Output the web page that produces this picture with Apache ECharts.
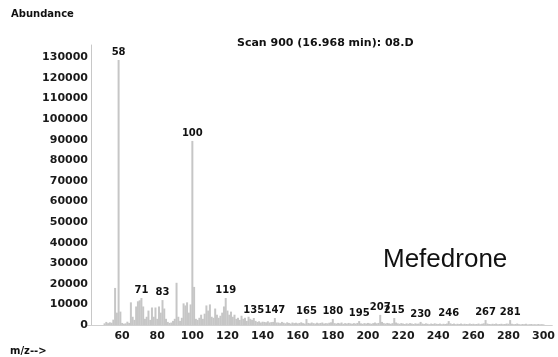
<!DOCTYPE html>
<html>
<head>
<meta charset="utf-8">
<script src="https://cdn.jsdelivr.net/npm/echarts@6/dist/echarts.min.js"></script>
<style>html,body{margin:0;padding:0;background:#fff;}#c{width:558px;height:357px;}</style>
</head>
<body>
<div id="c"></div>
<script>
// m/z values (x) and abundances (y)
const mz = [
 50,51,52,53,54,55,56,57,58,59,60,61,62,63,64,65,66,67,68,69,
 70,71,72,73,74,75,76,77,78,79,80,81,82,83,84,85,86,87,88,89,
 90,91,92,93,94,95,96,97,98,99,100,101,102,103,104,105,106,107,108,109,
 110,111,112,113,114,115,116,117,118,119,120,121,122,123,124,125,126,127,128,129,
 130,131,132,133,134,135,136,137,138,139,140,141,142,143,144,145,146,147,148,149,
 150,151,152,153,154,155,156,157,158,159,160,161,162,163,164,165,166,167,168,169,
 170,171,172,173,174,175,176,177,178,179,180,181,182,183,184,185,186,187,188,189,
 190,191,192,193,194,195,196,197,198,199,200,201,202,203,204,205,206,207,208,209,
 210,211,212,213,214,215,216,217,218,219,220,221,222,223,224,225,226,227,228,229,
 230,231,232,233,234,235,236,237,238,239,240,241,242,243,244,245,246,247,248,249,
 250,251,252,253,254,255,256,257,258,259,260,261,262,263,264,265,266,267,268,269,
 270,271,272,273,274,275,276,277,278,279,280,281,282,283,284,285,286,287,288,289,
 290,291,292,293,294,295,296,297,298,299,300
];
const abundance = [
 800,1500,900,1300,1100,2600,18000,6000,128700,6500,1000,600,800,1600,1000,11000,4000,2500,9000,11500,
 12000,13100,9000,3000,4000,7000,2500,8500,4000,8500,3000,9000,6000,12100,8000,3000,1500,1000,1200,2000,
 3000,20500,4000,2000,3500,10500,9500,11000,6000,10000,89400,18500,3000,2500,3500,5000,3000,5500,9500,7000,
 10000,4000,3500,8000,5000,3500,4500,6000,9000,13100,7000,5000,6500,4000,5000,3000,3500,2500,4500,3000,
 3500,2000,4000,3000,2500,3400,2000,1500,1800,1200,1600,1500,1300,1800,1200,1400,1500,3400,1200,1200,
 900,1500,1100,800,1300,1000,700,1200,900,1100,800,1000,1300,900,700,2900,1000,800,1200,900,
 700,1100,800,1000,1200,700,900,800,1100,1300,2900,900,700,1000,800,1200,600,900,700,1000,
 800,600,900,700,1000,1900,800,600,900,700,1000,800,600,900,1200,800,1000,4900,1500,900,
 700,1000,800,600,900,3400,1200,800,600,900,700,500,800,600,900,700,500,800,600,700,
 1500,700,500,800,600,400,700,500,800,600,500,700,400,600,500,700,1900,800,500,700,
 400,600,500,700,400,600,500,400,700,500,600,400,500,700,400,600,800,2400,700,500,
 400,600,500,700,400,500,600,400,500,700,600,2400,600,400,500,700,400,300,500,400,
 600,300,400,500,300,400,300,500,300,400,300
];
// peaks annotated with their m/z
const labeledPeaks = [58,71,83,100,119,135,147,165,180,195,207,215,230,246,267,281];
const yTicks = [0,10000,20000,30000,40000,50000,60000,70000,80000,90000,100000,110000,120000,130000];
const xTicks = [60,80,100,120,140,160,180,200,220,240,260,280,300];
const titleText = 'Scan 900 (16.968 min): 08.D';
const compoundName = 'Mefedrone';

const data = mz.map((m, i) => {
  const item = { value: [m, abundance[i]] };
  if (labeledPeaks.indexOf(m) >= 0) {
    item.label = { show: true, formatter: String(m) };
  }
  return item;
});

const chart = echarts.init(document.getElementById('c'), null, { renderer: 'canvas' });
const boldFont = 'DejaVu Sans';
chart.setOption({
  animation: false,
  backgroundColor: '#fff',
  grid: { left: 87, right: 1, top: 45, bottom: 32 },
  xAxis: {
    type: 'value', min: 40, max: 305, interval: 20,
    axisLine: { show: true, lineStyle: { color: '#d0d0d0', width: 1 } },
    axisTick: { show: false },
    splitLine: { show: false },
    axisLabel: {
      showMinLabel: false, showMaxLabel: false, margin: 6,
      color: '#1a1a1a', fontFamily: boldFont, fontWeight: 'bold', fontSize: 11,
      formatter: v => xTicks.indexOf(v) >= 0 ? String(v) : ''
    }
  },
  yAxis: {
    type: 'value', min: 0, max: 136000, interval: 10000, offset: -4,
    axisLine: { show: true, lineStyle: { color: '#c8c8c8', width: 1 } },
    axisTick: { show: false },
    splitLine: { show: false },
    axisLabel: {
      showMaxLabel: false, margin: 3,
      color: '#1a1a1a', fontFamily: boldFont, fontWeight: 'bold', fontSize: 11,
      formatter: v => yTicks.indexOf(v) >= 0 ? String(v) : ''
    }
  },
  series: [{
    type: 'bar',
    data: data,
    barWidth: 2,
    itemStyle: { color: '#c6c6c6' },
    label: {
      show: false, position: 'top', distance: 3,
      color: '#111', fontFamily: boldFont, fontWeight: 'bold', fontSize: 10
    }
  }],
  graphic: [
    { type: 'text', left: 11, top: 9,
      style: { text: 'Abundance', fill: '#111', font: 'bold 10px "DejaVu Sans"' } },
    { type: 'text', left: 237, top: 38,
      style: { text: titleText, fill: '#111', font: 'bold 11px "DejaVu Sans"' } },
    { type: 'text', left: 383, top: 247,
      style: { text: compoundName, fill: '#111', font: '26px "Liberation Sans", Arial, sans-serif' } },
    { type: 'text', left: 10, top: 346,
      style: { text: 'm/z-->', fill: '#111', font: 'bold 10px "DejaVu Sans"' } }
  ]
});
</script>
</body>
</html>
